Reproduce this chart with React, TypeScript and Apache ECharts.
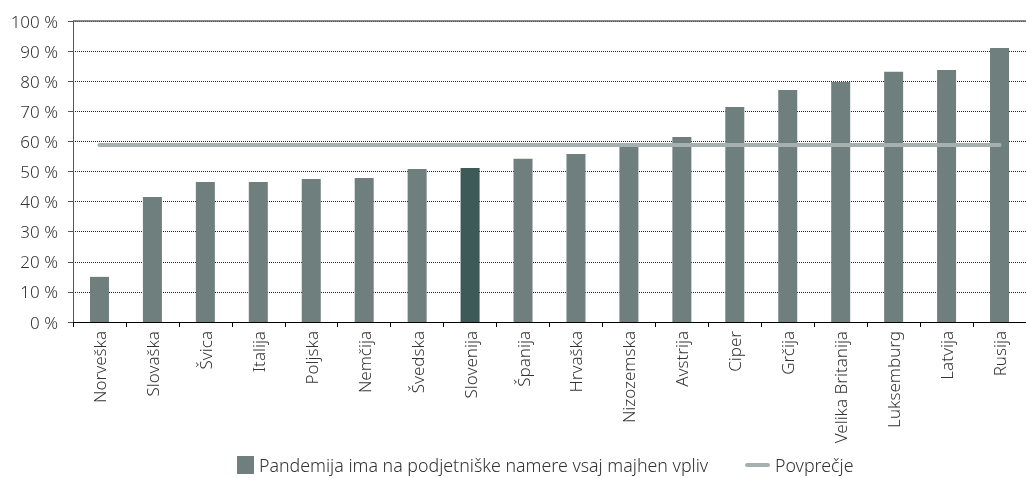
import React, { useEffect, useRef } from "react";
import * as echarts from "echarts";

const categories = [
  "Norveška", "Slovaška", "Švica", "Italija", "Poljska", "Nemčija", "Švedska", "Slovenija", "Španija",
  "Hrvaška", "Nizozemska", "Avstrija", "Ciper", "Grčija", "Velika Britanija", "Luksemburg", "Latvija", "Rusija",
];
const impactValues = [15.0, 41.5, 46.5, 46.5, 47.5, 47.8, 50.8, 51.2, 54.2, 55.8, 58.5, 61.5, 71.4, 77.1, 79.7, 83.1, 83.7, 91.0];
const averageValue = 58.8;
const highlighted = "Slovenija";
const barName = "Pandemija ima na podjetniške namere vsaj majhen vpliv";
const lineName = "Povprečje";

const FONT = "'Source Sans Pro', 'Noto Sans', sans-serif";
const legendText = { fontSize: 17.8, color: "#333", fontFamily: FONT, fontWeight: 300 };

export default function App() {
  const ref = useRef<HTMLDivElement>(null);
  useEffect(() => {
    if (!ref.current) return;
    const chart = echarts.init(ref.current, undefined, { renderer: "svg" });
    chart.setOption({
      animation: false,
      textStyle: { fontFamily: FONT },
      grid: { left: 73, right: 0, top: 21, bottom: 156 },
      legend: [
        {
          top: 454,
          left: 235,
          padding: [2, 2],
          textStyle: legendText,
          data: [{ name: barName, icon: "rect", itemStyle: { color: "#6f7f7d" } }],
          itemWidth: 17,
          itemHeight: 18,
        },
        {
          top: 454,
          left: 743,
          padding: [2, 2],
          textStyle: legendText,
          data: [{ name: lineName, icon: "path://M2,0 L23,0 A2,2 0 0 1 23,4 L2,4 A2,2 0 0 1 2,0 Z" }],
          itemWidth: 25,
          itemHeight: 18,
          symbolKeepAspect: true,
        },
      ],
      xAxis: {
        type: "category",
        data: categories,
        axisLine: { lineStyle: { color: "#000", width: 1 } },
        axisTick: { show: true, length: 5, lineStyle: { color: "#000" } },
        axisLabel: {
          rotate: 90,
          fontSize: 17,
          color: "#333",
          fontFamily: FONT,
          fontWeight: 300,
          margin: 9,
        },
      },
      yAxis: {
        type: "value",
        min: 0,
        max: 100,
        interval: 10,
        axisLine: { show: true, lineStyle: { color: "#555" } },
        axisTick: { show: true, length: 5, lineStyle: { color: "#555" } },
        axisLabel: {
          formatter: "{value} %",
          fontSize: 17,
          color: "#333",
          fontFamily: FONT,
          fontWeight: 300,
          margin: 15,
        },
        splitLine: { show: true, lineStyle: { color: "#222", type: [1, 1], width: 1 } },
      },
      series: [
        {
          name: barName,
          type: "bar",
          barWidth: 19,
          data: impactValues.map((v, i) => ({
            value: v,
            itemStyle: { color: categories[i] === highlighted ? "#3d5a58" : "#6f7f7d" },
          })),
          markLine: {
            silent: true,
            symbol: "none",
            label: { show: false },
            lineStyle: { color: "#666", type: "solid", width: 1.5 },
            data: [{ yAxis: 100 }],
          },
        },
        {
          name: lineName,
          type: "line",
          data: categories.map(() => averageValue),
          symbol: "none",
          itemStyle: { color: "#a6b0ae" },
          lineStyle: { color: "#a6b0ae", width: 4, cap: "round" },
        },
      ],
    });
    return () => chart.dispose();
  }, []);
  return <div ref={ref} style={{ position: "fixed", left: 0, top: 0, width: 1026, height: 478 }} />;
}
